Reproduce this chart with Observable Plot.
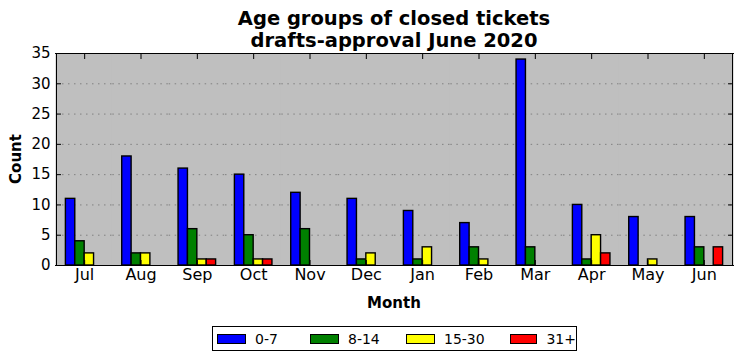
<!DOCTYPE html>
<html>
<head>
<meta charset="utf-8">
<script src="https://cdn.jsdelivr.net/npm/d3@7"></script>
<script src="https://cdn.jsdelivr.net/npm/@observablehq/plot@0.6"></script>
<style>
  html, body { margin: 0; padding: 0; background: #fff; }
  #wrap { position: relative; width: 742px; height: 361px; font-family: "DejaVu Sans", sans-serif; }
  #title { position: absolute; left: 56px; width: 676px; top: 8px; text-align: center; font-weight: bold; font-size: 19.5px; line-height: 22.3px; }
  #ylabel { position: absolute; left: 16px; top: 159px; transform: translate(-50%, -50%) rotate(-90deg); font-weight: bold; font-size: 15px; white-space: nowrap; }
  #xlabel { position: absolute; left: 394px; top: 303px; transform: translate(-50%, -50%); font-weight: bold; font-size: 15px; }
  #legend { position: absolute; left: 212px; top: 326px; width: 363px; height: 23px; border: 1px solid #000; background: #fff; display: flex; align-items: center; font-size: 14px; }
  .item { display: flex; align-items: center; }
  .sw { width: 27px; height: 8px; border: 1px solid #000; margin-left: 4px; margin-right: 9px; }
  svg { position: absolute; left: 0; top: 0; }
</style>
</head>
<body>
<div id="wrap">
  <div id="title">Age groups of closed tickets<br>drafts-approval June 2020</div>
  <div id="ylabel">Count</div>
  <div id="xlabel">Month</div>
  <div id="legend"></div>
</div>
<script>
const months = ["Jul","Aug","Sep","Oct","Nov","Dec","Jan","Feb","Mar","Apr","May","Jun"];
const groups = ["0-7","8-14","15-30","31+"];
const colors = ["#0000ff","#008000","#ffff00","#ff0000"];
const g0_7   = [11,18,16,15,12,11, 9, 7,34,10, 8, 8];
const g8_14  = [ 4, 2, 6, 5, 6, 1, 1, 3, 3, 1, 0, 3];
const g15_30 = [ 2, 2, 1, 1, 0, 2, 3, 1, 0, 5, 1, 0];
const g31    = [ 0, 0, 1, 1, 0, 0, 0, 0, 0, 2, 0, 3];
const yTicks = [0,5,10,15,20,25,30,35];

const series = [g0_7, g8_14, g15_30, g31];
const data = [];
months.forEach((m, i) => groups.forEach((g, j) => data.push({month: m, group: g, count: series[j][i]})));

const chart = Plot.plot({
  width: 742,
  height: 361,
  marginLeft: 56,
  marginRight: 10,
  marginTop: 53,
  marginBottom: 96,
  style: {fontFamily: "DejaVu Sans, sans-serif", fontSize: "15px", background: "transparent", color: "#000"},
  fx: {domain: months, padding: 0, round: false, label: null},
  x: {domain: groups, paddingInner: 0, paddingOuter: 1, round: false, axis: null},
  y: {domain: [0, 35], label: null},
  color: {domain: groups, range: colors},
  marks: [
    Plot.frame({fill: "#bfbfbf", insetLeft: -1, insetRight: -1}),
    Plot.gridY(yTicks.slice(1, -1), {stroke: "#808080", strokeOpacity: 1, strokeDasharray: "1.5,4.5", strokeWidth: 1}),
    Plot.rectY(data, {fx: "month", x: "group", y: "count", fill: "group", stroke: "#000", strokeWidth: 1.4}),
    Plot.frame({anchor: "top", stroke: "#000", insetLeft: -1, insetRight: -1}),
    Plot.frame({anchor: "bottom", stroke: "#000", insetLeft: -1, insetRight: -1}),
    Plot.frame({anchor: "left", stroke: "#000", facetAnchor: "left"}),
    Plot.frame({anchor: "right", stroke: "#000", facetAnchor: "right"}),
    Plot.axisY(yTicks, {anchor: "left", tickSize: -5, tickPadding: 11, label: null, fontSize: 15}),
    Plot.axisY(yTicks, {anchor: "right", tickSize: -5, tickFormat: () => "", label: null}),
    Plot.axisFx({anchor: "bottom", tickSize: -5, tickPadding: 8, label: null, fontSize: 16}),
    Plot.axisFx({anchor: "top", tickSize: -5, tickFormat: () => "", label: null})
  ]
});
document.getElementById("wrap").appendChild(chart);

const legend = document.getElementById("legend");
groups.forEach((g, j) => {
  const it = document.createElement("div");
  it.className = "item";
  it.style.width = ["93px","96px","104px","70px"][j];
  const sw = document.createElement("div");
  sw.className = "sw";
  sw.style.background = colors[j];
  const lb = document.createElement("span");
  lb.textContent = g;
  it.appendChild(sw); it.appendChild(lb);
  legend.appendChild(it);
});
</script>
</body>
</html>
